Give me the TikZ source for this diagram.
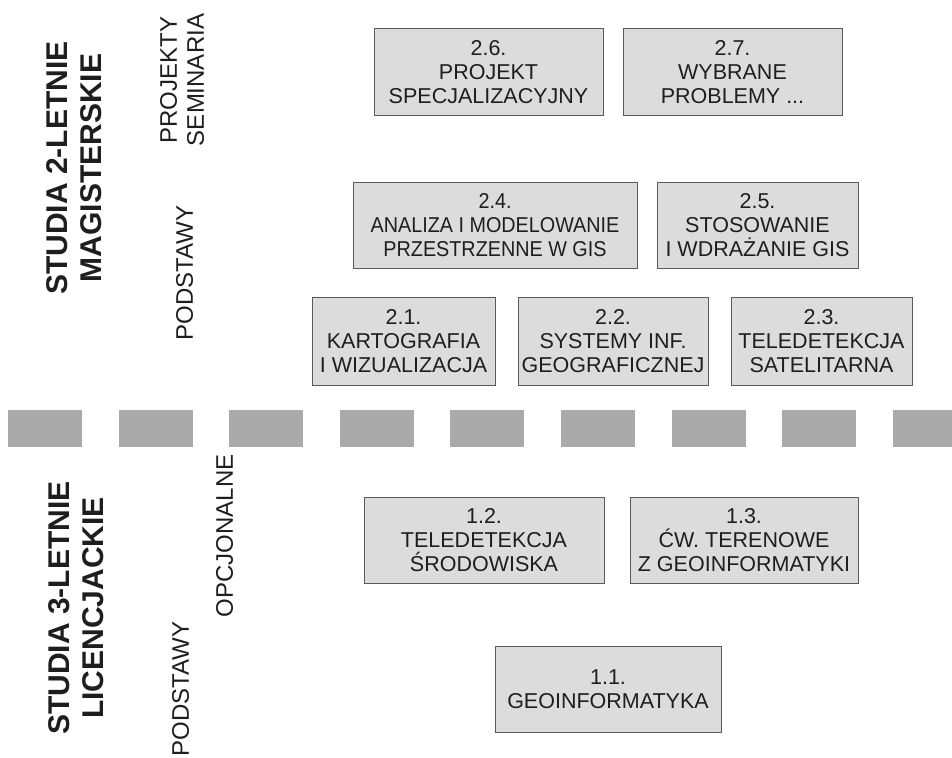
\documentclass[tikz,border=0pt]{standalone}
\usepackage{fontspec}
\setmainfont{Liberation Sans}
\newfontfamily\condfont[FakeStretch=0.92]{Liberation Sans}
\definecolor{boxfill}{HTML}{DCDCDC}
\definecolor{boxline}{HTML}{5A5A5A}
\definecolor{dashfill}{HTML}{AAAAAA}
\definecolor{txt}{HTML}{1E1E1E}
\tikzset{
  box/.style={draw=boxline, fill=boxfill, line width=1pt, inner sep=0pt, align=center,
    text=txt, font=\fontsize{21.5}{24}\selectfont},
  titlelab/.style={rotate=90, anchor=south, inner sep=0pt, align=center, text depth=0pt,
    text=txt, font=\bfseries\fontsize{30}{34}\selectfont},
  sidelab/.style={rotate=90, anchor=south, inner sep=0pt, align=center, text depth=0pt,
    text=txt, font=\fontsize{24}{27}\selectfont},
}
\begin{document}
\begin{tikzpicture}[x=1pt,y=-1pt]
\useasboundingbox[fill=white] (0,0) rectangle (952,757);

% separator
\foreach \k in {0,...,8}{
  \fill[dashfill] ({8+110.6*\k},410) rectangle ({min(8+110.6*\k+74,952)},447);
}

% side labels (upper)
\node[titlelab] (t2) at (102,168) {STUDIA 2-LETNIE\\MAGISTERSKIE};
\node[sidelab] (proj) at (204,80) {PROJEKTY\\SEMINARIA};
\node[sidelab] (pod2) at (193,273) {PODSTAWY};

% side labels (lower)
\node[titlelab] (t1) at (104,608) {STUDIA 3-LETNIE\\LICENCJACKIE};
\node[sidelab] (opc) at (233,536) {OPCJONALNE};
\node[sidelab] (pod1) at (189,689) {PODSTAWY};

% master boxes
\node[box, minimum width=229, minimum height=87] (b26) at (488.5,72.5) {2.6.\\PROJEKT\\SPECJALIZACYJNY};
\node[box, minimum width=219, minimum height=87] (b27) at (732.5,72.5) {2.7.\\WYBRANE\\PROBLEMY ...};
\node[box, minimum width=284, minimum height=86, font=\condfont\fontsize{21.5}{24}\selectfont] (b24) at (495,225) {2.4.\\ANALIZA I MODELOWANIE\\PRZESTRZENNE W GIS};
\node[box, minimum width=201, minimum height=86] (b25) at (757.5,225) {2.5.\\STOSOWANIE\\I WDRAŻANIE GIS};
\node[box, minimum width=183, minimum height=88] (b21) at (403.5,341) {2.1.\\KARTOGRAFIA\\I WIZUALIZACJA};
\node[box, minimum width=190, minimum height=88] (b22) at (613,341) {2.2.\\SYSTEMY INF.\\GEOGRAFICZNEJ};
\node[box, minimum width=181, minimum height=88] (b23) at (821.5,341) {2.3.\\TELEDETEKCJA\\SATELITARNA};

% bachelor boxes
\node[box, minimum width=240, minimum height=86] (b12) at (484,540) {1.2.\\TELEDETEKCJA\\ŚRODOWISKA};
\node[box, minimum width=228, minimum height=86] (b13) at (744,540) {1.3.\\ĆW. TERENOWE\\Z GEOINFORMATYKI};
\node[box, minimum width=226, minimum height=86] (b11) at (608,689) {1.1.\\GEOINFORMATYKA};
\end{tikzpicture}
\end{document}
